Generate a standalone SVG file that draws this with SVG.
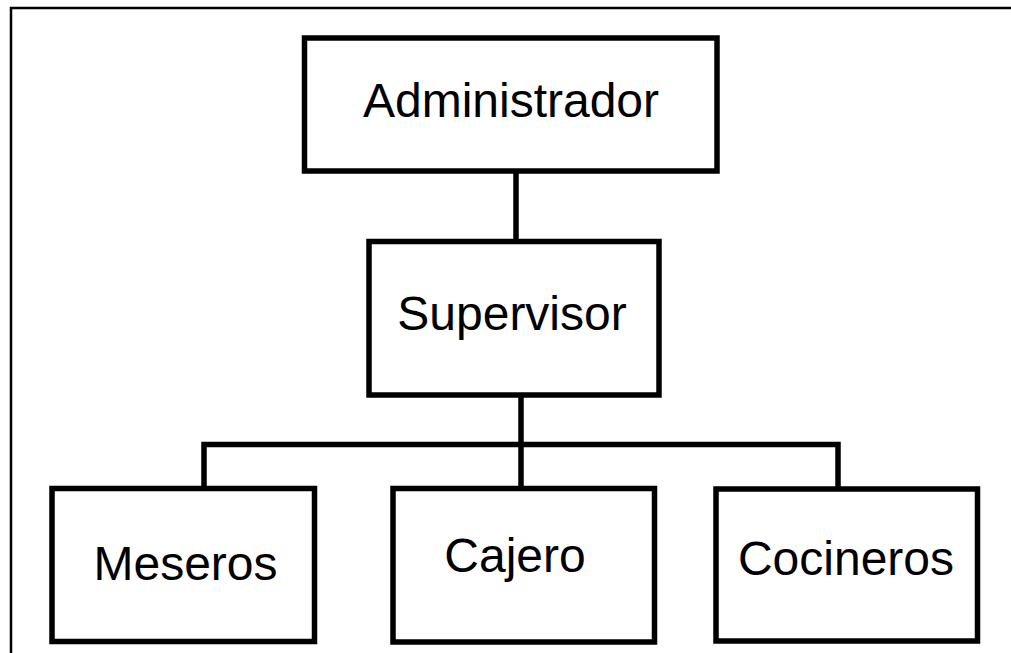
<svg xmlns="http://www.w3.org/2000/svg" width="1011" height="653" viewBox="0 0 1011 653">
  <style>
    .box { fill: #ffffff; stroke: #000000; stroke-width: 5.5; }
    .wire { fill: none; stroke: #000000; stroke-width: 5.5; stroke-linejoin: miter; }
    .frame { fill: none; stroke: #000000; stroke-width: 2.5; }
    .label { font-family: "Liberation Sans", Arial, sans-serif; font-size: 48px; fill: #000000; text-anchor: middle; }
  </style>
  <rect width="1011" height="653" fill="#ffffff"/>
  <!-- page frame -->
  <path class="frame" d="M11 653 V8 H1011"/>
  <!-- connectors -->
  <g id="connectors">
    <line class="wire" x1="516" y1="171" x2="516" y2="241.5"/>
    <line class="wire" x1="521" y1="395" x2="521" y2="488.5"/>
    <path class="wire" d="M204 488.5 V444.5 H838 V488.5"/>
  </g>
  <g id="administrador">
    <rect class="box" x="304.5" y="38" width="412.5" height="133"/>
    <text class="label" x="511" y="117">Administrador</text>
  </g>
  <g id="supervisor">
    <rect class="box" x="369" y="241.5" width="290" height="153.5"/>
    <text class="label" x="512" y="330">Supervisor</text>
  </g>
  <g id="meseros">
    <rect class="box" x="52" y="488.5" width="262.5" height="153"/>
    <text class="label" x="185.5" y="580">Meseros</text>
  </g>
  <g id="cajero">
    <rect class="box" x="393" y="488.5" width="261.5" height="153.5"/>
    <text class="label" x="515" y="572">Cajero</text>
  </g>
  <g id="cocineros">
    <rect class="box" x="716" y="489" width="261.5" height="152"/>
    <text class="label" x="846" y="575">Cocineros</text>
  </g>
</svg>
